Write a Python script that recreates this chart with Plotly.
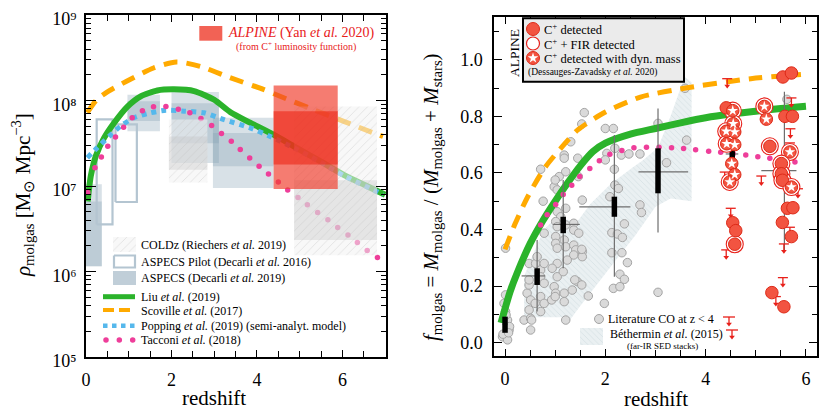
import plotly.graph_objects as go

W, H = 830, 415
OFF = 8  # the page body margin shifts the figure by 8 px; layout positions below are given in window pixels
FONT = "Liberation Serif"
RED = "#e8201a"

# ================= LEFT PANEL DATA (redshift, rho_molgas [Msun Mpc^-3]) =================
liu_z = [0.04, 0.07, 0.11, 0.23, 0.42, 0.66, 0.97, 1.28, 1.67, 2.06, 2.53, 3.00, 3.38, 3.84, 4.39, 4.93, 5.48, 6.03, 6.57, 7.00]
liu_rho = [6.6e6, 9.1e6, 1.29e7, 2.24e7, 3.63e7, 5.5e7, 8.5e7, 1.12e8, 1.31e8, 1.35e8, 1.29e8, 1.02e8, 7.3e7, 5.5e7, 3.98e7, 2.79e7, 1.95e7, 1.35e7, 1.0e7, 7.9e6]

scov_z = [0.03, 0.25, 0.50, 0.95, 1.58, 2.12, 2.67, 3.37, 4.15, 4.54, 5.32, 6.03, 6.73, 6.95]
scov_rho = [7.24e7, 1.02e8, 1.26e8, 1.68e8, 2.40e8, 2.82e8, 2.51e8, 1.85e8, 1.35e8, 1.12e8, 7.83e7, 5.71e7, 4.17e7, 3.8e7]

pop_z = [0.03, 0.26, 0.54, 0.81, 1.12, 1.51, 1.87, 2.30, 2.76, 3.23, 3.84, 4.31, 4.93, 5.48, 6.03, 6.57, 6.95]
pop_rho = [2.14e7, 2.79e7, 3.8e7, 5.01e7, 6.31e7, 7.18e7, 7.69e7, 7.5e7, 7.18e7, 5.98e7, 4.79e7, 3.8e7, 2.69e7, 1.91e7, 1.32e7, 9.8e6, 7.9e6]

tac_z = [0.04, 0.21, 0.36, 0.51, 0.69, 0.88, 1.08, 1.32, 1.58, 1.87, 2.16, 2.43, 2.69, 2.94, 3.17, 3.40,
         3.61, 3.83, 4.05, 4.27, 4.50, 4.72, 4.96, 5.18, 5.42, 5.66, 5.89, 6.13, 6.35, 6.58, 6.82]
tac_rho = [8.4e6, 1.63e7, 2.19e7, 2.91e7, 3.75e7, 4.86e7, 6.27e7, 7.57e7, 8.43e7, 8.51e7, 7.91e7, 7.18e7, 6.15e7, 5.09e7, 4.1e7, 3.33e7,
           2.67e7, 2.13e7, 1.70e7, 1.38e7, 1.11e7, 8.97e6, 7.36e6, 6.03e6, 4.9e6, 4.03e6, 3.27e6, 2.67e6, 2.19e6, 1.76e6, 1.46e6]

rho_ticks = [1e5, 1e6, 1e7, 1e8, 1e9]
rho_ticktext = ["10⁵", "10⁶", "10⁷", "10⁸", "10⁹"]

aspecs_zlo = [0.00, 0.97, 2.00, 2.97]
aspecs_zhi = [0.37, 1.73, 3.11, 4.39]
aspecs_lo = [1.15e6, 4.37e7, 1.86e7, 9.5e6]
aspecs_hi = [1.05e7, 1.17e8, 1.26e8, 6.3e7]
aspecs_in_lo = [1.15e6, 5.75e7, 3.16e7, 1.7e7]
aspecs_in_hi = [6.6e6, 9.8e7, 9.3e7, 4.17e7]

pilot_zlo = [0.25, 0.69]
pilot_zhi = [0.62, 1.19]
pilot_lo = [3.55e6, 6.5e6]
pilot_hi = [6.0e7, 5.25e7]

coldz_zlo = [1.94, 4.87]
coldz_zhi = [2.84, 6.81]
coldz_lo = [1.1e7, 1.55e6]
coldz_hi = [6.0e7, 8.5e7]
coldz_in_lo = [1.55e7, 2.34e6]
coldz_in_hi = [3.8e7, 1.17e7]

alpine_zlo = [4.39, 4.39]
alpine_zhi = [5.89, 5.89]
alpine_lo = [9.2e6, 1.78e7]
alpine_hi = [1.5e8, 7.5e7]

# ================= RIGHT PANEL DATA (redshift, f_molgas) =================
liuf_z = [-0.08, 0.0, 0.1, 0.25, 0.5, 0.75, 1.0, 1.25, 1.5, 1.75, 2.0, 2.5, 3.0, 3.5, 4.0, 4.5, 5.0, 5.5, 6.0]
liuf_f = [0.07, 0.12, 0.18, 0.25, 0.35, 0.43, 0.50, 0.565, 0.625, 0.675, 0.705, 0.737, 0.757, 0.777, 0.795, 0.808, 0.818, 0.828, 0.836]

scovf_z = [0.0, 0.2, 0.45, 0.8, 1.2, 1.45, 2.0, 2.7, 3.6, 4.9, 5.9]
scovf_f = [0.33, 0.42, 0.515, 0.62, 0.705, 0.752, 0.815, 0.868, 0.90, 0.933, 0.948]

tacf_z = [0.71, 0.84, 1.01, 1.16, 1.33, 1.49, 1.69, 1.88, 2.09, 2.33, 2.57, 2.82, 3.07, 3.32, 3.56, 3.80,
          4.06, 4.30, 4.55, 4.80, 5.04, 5.28, 5.53, 5.78]
tacf_f = [0.416, 0.452, 0.488, 0.524, 0.556, 0.587, 0.616, 0.643, 0.666, 0.679, 0.689, 0.691, 0.691, 0.689, 0.686, 0.682,
          0.677, 0.673, 0.668, 0.663, 0.657, 0.652, 0.645, 0.639]

beth_z = [0.38, 0.38, 0.60, 0.78, 1.00, 1.45, 1.70, 2.10, 2.55, 2.75, 3.05, 3.30, 3.58, 3.72,
          3.72, 3.30, 3.00, 2.60, 2.20, 1.80, 1.50, 1.25, 1.15, 0.38]
beth_f = [0.09, 0.235, 0.33, 0.40, 0.44, 0.43, 0.49, 0.56, 0.62, 0.645, 0.69, 0.80, 0.94, 0.92,
          0.50, 0.51, 0.48, 0.38, 0.29, 0.20, 0.13, 0.07, 0.09, 0.09]

lit_z = [0.01, 0.01, -0.02, 0.01, 0.05, 0.08, -0.05, 0.05, 0.02, 0.09, -0.04, 0.07,
         0.38, 0.44, 0.48, 0.51, 0.48, 0.51, 0.51, 0.48, 0.61, 0.48, 0.71, 0.78, 0.71, 0.78, 0.71, 0.78, 0.71, 0.76, 0.71, 0.78, 0.64, 0.60, 0.53,
         1.31, 1.18, 1.18, 1.21, 1.08, 0.98, 1.04, 1.00, 1.54, 1.21, 1.04, 1.11, 1.01, 1.04, 1.21, 1.37, 1.37, 1.47, 1.01, 1.01,
         1.18, 1.04, 1.21, 1.37, 1.41, 1.54, 1.37, 1.54, 1.24, 1.04, 0.94, 1.04, 0.98, 1.01, 1.18, 1.34, 1.44, 1.18, 1.21, 0.93, 1.00, 1.16,
         1.58, 1.53, 2.00, 2.16, 3.05, 2.19, 2.03, 2.00, 2.32, 2.47, 2.69, 1.45, 1.46, 2.18, 3.22, 2.19, 2.26, 2.09, 2.69, 2.72,
         1.53, 2.38, 2.13, 2.24, 2.34, 2.13, 2.33, 2.44, 2.29, 2.38, 2.16, 2.29, 1.53, 1.39, 1.66, 1.98, 3.05, 3.59, 3.62, 5.62]
lit_f = [0.334, 0.169, 0.139, 0.11, 0.08, 0.045, 0.021, 0.01, 0.098, 0.057, 0.03, 0.035,
         0.08, 0.175, 0.204, 0.151, 0.116, 0.086, 0.045, 0.28, 0.28, 0.222, 0.257, 0.28, 0.233, 0.21, 0.163, 0.139, 0.11, 0.50, 0.613, 0.387, 0.304, 0.139, 0.08,
         0.71, 0.663, 0.652, 0.604, 0.587, 0.551, 0.54, 0.575, 0.504, 0.475, 0.463, 0.445, 0.428, 0.41, 0.416, 0.422, 0.398, 0.387, 0.375, 0.351,
         0.363, 0.334, 0.339, 0.345, 0.328, 0.322, 0.31, 0.304, 0.292, 0.28, 0.263, 0.233, 0.198, 0.175, 0.175, 0.186, 0.216, 0.145, 0.08, 0.151, 0.163, 0.251,
         0.813, 0.773, 0.757, 0.757, 0.775, 0.687, 0.669, 0.646, 0.663, 0.667, 0.667, 0.652, 0.587, 0.613, 0.636, 0.557, 0.545, 0.516, 0.487, 0.46,
         0.33, 0.42, 0.389, 0.384, 0.372, 0.318, 0.318, 0.283, 0.242, 0.224, 0.192, 0.198, 0.204, 0.222, 0.165, 0.139, 0.178, 0.899, 0.716, 0.86]

med_z = [0.00, 0.64, 1.16, 2.18, 3.05, 4.53, 5.57]
med_lo = [0.035, 0.204, 0.387, 0.445, 0.528, 0.634, 0.546]
med_hi = [0.092, 0.263, 0.445, 0.516, 0.687, 0.702, 0.667]
med_mid = [0.065, 0.236, 0.418, 0.48, 0.604, 0.667, 0.608]
err_flo = [0.04, 0.11, 0.263, 0.233, 0.389, 0.562, 0.322]
err_fhi = [0.09, 0.363, 0.575, 0.734, 0.828, 0.815, 0.887]
err_zlo = [-0.05, 0.33, 0.96, 1.48, 2.66, 4.40, 5.11]
err_zhi = [0.05, 0.80, 1.49, 2.50, 3.65, 4.65, 5.81]

alp_z = [5.54, 5.71, 4.41, 4.54, 5.17, 5.21, 5.58, 5.73, 4.55, 4.41, 4.58, 4.42, 4.58, 5.28, 5.68, 4.52,
         5.51, 4.58, 4.48, 5.51, 5.53, 5.71, 5.63, 5.74, 5.53, 5.71, 4.54, 4.60, 4.58, 5.32, 5.56]
alp_f = [0.939, 0.953, 0.83, 0.82, 0.835, 0.79, 0.80, 0.80, 0.774, 0.747, 0.745, 0.703, 0.70, 0.694, 0.674, 0.633,
         0.633, 0.594, 0.568, 0.597, 0.574, 0.55, 0.475, 0.477, 0.425, 0.375, 0.424, 0.396, 0.348, 0.177, 0.127]
alp_kind = ["det", "det", "det", "firstar", "firstar", "star", "det", "det", "firstar", "firstar", "star", "firstar", "star", "fir", "firstar", "star",
            "fir", "star", "firstar", "fir", "fir", "firstar", "det", "det", "det", "det", "det", "det", "fir", "det", "det"]

ulim_z = [4.43, 5.71, 5.69, 4.38, 5.11, 5.68, 5.84, 4.50, 4.41, 5.68, 5.56, 5.54, 5.40]
ulim_f = [0.933, 0.865, 0.756, 0.603, 0.589, 0.706, 0.544, 0.475, 0.328, 0.408, 0.349, 0.23, 0.163]

# ================= FIGURE =================
fig = go.Figure()
LA = dict(xaxis="x", yaxis="y")
RA = dict(xaxis="x2", yaxis="y2")
PA = dict(xaxis="x3", yaxis="y3")


def rect(x0, x1, y0, y1):
    return [x0, x1, x1, x0, x0], [y0, y0, y1, y1, y0]


def add_box(x0, x1, y0, y1, axes, fill=None, line=None, pattern=None):
    xs, ys = rect(x0, x1, y0, y1)
    kw = dict(x=xs, y=ys, mode="lines", showlegend=False, hoverinfo="skip", **axes)
    if fill is not None:
        kw["fill"] = "toself"
        kw["fillcolor"] = fill
    kw["line"] = line if line is not None else dict(width=0, color="rgba(0,0,0,0)")
    if pattern is not None:
        kw["fillpattern"] = pattern
    fig.add_trace(go.Scatter(**kw))


ASPECS_FILL = "rgba(130,158,178,0.31)"
PILOT_LINE = dict(color="#b4c5d1", width=2.2)
COLDZ_PAT = dict(shape="/", fgcolor="#b8b8b8", bgcolor="rgba(242,242,242,0.55)", size=6, solidity=0.1)
COLDZ_FILL = "rgba(242,242,242,0.55)"
COLDZ_IN = "rgba(190,190,190,0.32)"
BETH_PAT = dict(shape="\\", fgcolor="#b3c6cc", bgcolor="rgba(226,234,237,0.75)", size=4, solidity=0.15)

# ---- left panel ----
for i in range(len(aspecs_zlo)):
    add_box(aspecs_zlo[i], aspecs_zhi[i], aspecs_lo[i], aspecs_hi[i], LA, fill=ASPECS_FILL)
    add_box(aspecs_zlo[i], aspecs_zhi[i], aspecs_in_lo[i], aspecs_in_hi[i], LA, fill=ASPECS_FILL)
for i in range(len(pilot_zlo)):
    add_box(pilot_zlo[i], pilot_zhi[i], pilot_lo[i], pilot_hi[i], LA, line=PILOT_LINE)

fig.add_trace(go.Scatter(x=scov_z, y=scov_rho, mode="lines",
                         line=dict(color="#ffaa00", width=5, dash="14px,9px", shape="spline", smoothing=0.7),
                         showlegend=False, hoverinfo="skip", **LA))
fig.add_trace(go.Scatter(x=liu_z, y=liu_rho, mode="lines", line=dict(color="#2bb32b", width=6, shape="spline", smoothing=0.6),
                         showlegend=False, hoverinfo="skip", **LA))
fig.add_trace(go.Scatter(x=pop_z, y=pop_rho, mode="lines",
                         line=dict(color="#55b8ec", width=5, dash="dot", shape="spline", smoothing=0.6),
                         showlegend=False, hoverinfo="skip", **LA))
fig.add_trace(go.Scatter(x=tac_z, y=tac_rho, mode="markers", marker=dict(color="#ee3e9a", size=5.5),
                         showlegend=False, hoverinfo="skip", **LA))

for i in range(len(coldz_zlo)):
    add_box(coldz_zlo[i], coldz_zhi[i], coldz_lo[i], coldz_hi[i], LA, fill=COLDZ_FILL, pattern=COLDZ_PAT)
    add_box(coldz_zlo[i], coldz_zhi[i], coldz_in_lo[i], coldz_in_hi[i], LA, fill=COLDZ_IN)

add_box(alpine_zlo[0], alpine_zhi[0], alpine_lo[0], alpine_hi[0], LA, fill="rgba(240,62,45,0.68)")
add_box(alpine_zlo[1], alpine_zhi[1], alpine_lo[1], alpine_hi[1], LA, fill="rgba(236,38,22,0.6)")

# ---- right panel ----
fig.add_trace(go.Scatter(x=beth_z, y=beth_f, mode="lines", fill="toself", fillcolor="rgba(226,234,237,0.75)",
                         fillpattern=BETH_PAT, line=dict(width=0, color="rgba(0,0,0,0)"),
                         showlegend=False, hoverinfo="skip", **RA))
fig.add_trace(go.Scatter(x=lit_z, y=lit_f, mode="markers",
                         marker=dict(size=8.5, color="#dadada", line=dict(color="#a4a4a4", width=1)),
                         showlegend=False, hoverinfo="skip", **RA))
fig.add_trace(go.Scatter(x=scovf_z, y=scovf_f, mode="lines",
                         line=dict(color="#ffaa00", width=5, dash="14px,9px", shape="spline", smoothing=0.7),
                         showlegend=False, hoverinfo="skip", **RA))
fig.add_trace(go.Scatter(x=liuf_z, y=liuf_f, mode="lines", line=dict(color="#2bb32b", width=7, shape="spline", smoothing=0.7),
                         showlegend=False, hoverinfo="skip", **RA))
fig.add_trace(go.Scatter(x=tacf_z, y=tacf_f, mode="markers", marker=dict(color="#ee3e9a", size=5.5),
                         showlegend=False, hoverinfo="skip", **RA))

ex, ey = [], []
for i in range(len(med_z)):
    ex += [med_z[i], med_z[i], None, err_zlo[i], err_zhi[i], None]
    ey += [err_flo[i], err_fhi[i], None, med_mid[i], med_mid[i], None]
fig.add_trace(go.Scatter(x=ex, y=ey, mode="lines", line=dict(color="#6e6e6e", width=1.2),
                         showlegend=False, hoverinfo="skip", **RA))
bx, by = [], []
for i in range(len(med_z)):
    bx += [med_z[i], med_z[i], None]
    by += [med_lo[i], med_hi[i], None]
fig.add_trace(go.Scatter(x=bx, y=by, mode="lines", line=dict(color="black", width=5.5),
                         showlegend=False, hoverinfo="skip", **RA))

# upper limits
DZ, DF = 0.1, 0.026
ux, uy, tx, ty = [], [], [], []
for z, f in zip(ulim_z, ulim_f):
    ux += [z - DZ, z + DZ, None, z, z, None]
    uy += [f, f, None, f, f - DF, None]
    tx.append(z)
    ty.append(f - DF)
fig.add_trace(go.Scatter(x=ux, y=uy, mode="lines", line=dict(color=RED, width=1.3),
                         showlegend=False, hoverinfo="skip", **RA))
fig.add_trace(go.Scatter(x=tx, y=ty, mode="markers", marker=dict(symbol="triangle-down", size=5, color=RED),
                         showlegend=False, hoverinfo="skip", **RA))

ring_idx = [i for i, k in enumerate(alp_kind) if k in ("fir", "firstar")]
star_idx = [i for i, k in enumerate(alp_kind) if k in ("star", "firstar")]
fig.add_trace(go.Scatter(x=[alp_z[i] for i in ring_idx], y=[alp_f[i] for i in ring_idx], mode="markers",
                         marker=dict(size=17, color="white", line=dict(color=RED, width=1.1)),
                         showlegend=False, hoverinfo="skip", **RA))
fig.add_trace(go.Scatter(x=alp_z, y=alp_f, mode="markers",
                         marker=dict(size=12.5, color="#f25441", line=dict(color="#dd2a18", width=1)),
                         showlegend=False, hoverinfo="skip", **RA))
fig.add_trace(go.Scatter(x=[alp_z[i] for i in star_idx], y=[alp_f[i] for i in star_idx], mode="markers",
                         marker=dict(symbol="star", size=8, color="white", line=dict(width=0)),
                         showlegend=False, hoverinfo="skip", **RA))

# ================= LEGENDS (overlay axes in window pixels) =================
ann = []


def text(x, y, s, size=12, color="black", xanchor="left", angle=0):
    ann.append(dict(x=x, y=y, xref="x3", yref="y3", text=s, showarrow=False, xanchor=xanchor, yanchor="middle",
                    textangle=angle, font=dict(family=FONT, size=size, color=color)))


# left legend
add_box(113, 136, 237, 252, PA, fill=COLDZ_FILL, pattern=COLDZ_PAT)
add_box(114, 135, 255.5, 267.5, PA, line=PILOT_LINE)
add_box(113, 136, 271, 285, PA, fill="rgba(130,158,178,0.5)")
fig.add_trace(go.Scatter(x=[103, 135], y=[296.7, 296.7], mode="lines", line=dict(color="#2bb32b", width=5),
                         showlegend=False, hoverinfo="skip", **PA))
fig.add_trace(go.Scatter(x=[103, 135], y=[310, 310], mode="lines", line=dict(color="#ffaa00", width=4, dash="11px,5px"),
                         showlegend=False, hoverinfo="skip", **PA))
fig.add_trace(go.Scatter(x=[103, 135], y=[325.7, 325.7], mode="lines", line=dict(color="#55b8ec", width=4.5, dash="dot"),
                         showlegend=False, hoverinfo="skip", **PA))
fig.add_trace(go.Scatter(x=[106, 119.3, 132.7], y=[340, 340, 340], mode="markers", marker=dict(color="#ee3e9a", size=5.5),
                         showlegend=False, hoverinfo="skip", **PA))
text(139, 244.5, "COLDz (Riechers <i>et al.</i> 2019)")
text(139, 261.5, "ASPECS Pilot (Decarli <i>et al.</i> 2016)")
text(139, 278, "ASPECS (Decarli <i>et al.</i> 2019)")
text(139, 296.5, "Liu <i>et al.</i> (2019)")
text(139, 310.5, "Scoville <i>et al.</i> (2017)")
text(139, 325.5, "Popping <i>et al.</i> (2019) (semi-analyt. model)")
text(139, 340, "Tacconi <i>et al.</i> (2018)")

# ALPINE (Yan) legend
add_box(199.3, 222.3, 26, 40.7, PA, fill="rgba(240,70,55,0.85)")
text(226, 33, "<i>ALPINE</i> (Yan <i>et al.</i> 2020)", size=14, color=RED)
text(295.5, 46.5, "(from C<sup>+</sup> luminosity function)", size=10, color=RED, xanchor="center")

# right ALPINE legend box
shapes = [dict(type="rect", xref="x3", yref="y3", x0=523, x1=684, y0=18.3, y1=81.7,
               fillcolor="#ebebeb", line=dict(color="black", width=2), layer="below")]
fig.add_trace(go.Scatter(x=[533, 533], y=[29, 58], mode="markers",
                         marker=dict(size=13, color="#f25441", line=dict(color="#dd2a18", width=1)),
                         showlegend=False, hoverinfo="skip", **PA))
fig.add_trace(go.Scatter(x=[533], y=[43.5], mode="markers",
                         marker=dict(size=13, color="white", line=dict(color=RED, width=1.2)),
                         showlegend=False, hoverinfo="skip", **PA))
fig.add_trace(go.Scatter(x=[533], y=[58], mode="markers",
                         marker=dict(symbol="star", size=8, color="white", line=dict(width=0)),
                         showlegend=False, hoverinfo="skip", **PA))
text(542, 29, "C<sup>+</sup> detected", size=12.5)
text(542, 43.5, "C<sup>+</sup> + FIR detected", size=12.5)
text(542, 58, "C<sup>+</sup> detected with dyn. mass", size=12.5)
text(526, 72.5, "(Dessauges-Zavadsky <i>et al.</i> 2020)", size=9.5)
text(514.5, 53.5, "ALPINE", size=13.5, xanchor="center", angle=-90)

# right bottom legend
fig.add_trace(go.Scatter(x=[599], y=[319], mode="markers",
                         marker=dict(size=9, color="#dadada", line=dict(color="#a4a4a4", width=1)),
                         showlegend=False, hoverinfo="skip", **PA))
add_box(580, 603, 328, 345, PA, fill="rgba(226,234,237,0.75)", pattern=BETH_PAT)
for (lx, ly) in [(729, 317), (732, 330)]:
    fig.add_trace(go.Scatter(x=[lx - 6, lx + 6, None, lx, lx], y=[ly, ly, None, ly, ly + 7], mode="lines",
                             line=dict(color=RED, width=1.3), showlegend=False, hoverinfo="skip", **PA))
    fig.add_trace(go.Scatter(x=[lx], y=[ly + 7], mode="markers", marker=dict(symbol="triangle-down", size=5, color=RED),
                             showlegend=False, hoverinfo="skip", **PA))
text(606, 319, "Literature CO at z &lt; 4", size=12)
text(608, 333.5, "Béthermin <i>et al.</i> (2015)", size=12)
text(662, 345.5, "(far-IR SED stacks)", size=9, xanchor="center")

# axis titles
text(214, 398, "redshift", size=21, xanchor="center")
text(655.5, 399, "redshift", size=21, xanchor="center")
text(22, 195, "<i>ρ</i><sub>molgas</sub> [M<sub>⊙</sub> Mpc<sup>−3</sup>]", size=21, xanchor="center", angle=-90)
text(432, 197, "<i>f</i><sub>molgas</sub> = <i>M</i><sub>molgas</sub> / (<i>M</i><sub>molgas</sub> + <i>M</i><sub>stars</sub>)",
     size=21, xanchor="center", angle=-90)


# ================= LAYOUT =================
def xdom(a, b):
    return [(a - OFF) / W, (b - OFF) / W]


def ydom(top, bottom):
    return [1 - (bottom - OFF) / H, 1 - (top - OFF) / H]


axis_common = dict(showline=True, linecolor="black", linewidth=1.5, mirror="ticks", ticks="inside",
                   tickcolor="black", tickwidth=1.2, showgrid=False, zeroline=False, automargin=False,
                   ticklabeloverflow="allow", tickfont=dict(family=FONT, size=18, color="black"))

fig.update_layout(
    width=W, height=H, margin=dict(l=0, r=0, t=0, b=0, autoexpand=False),
    paper_bgcolor="white", plot_bgcolor="rgba(255,255,255,0)", showlegend=False,
    font=dict(family=FONT, color="black"),
    xaxis=dict(domain=xdom(86, 386), range=[0, 7.02], dtick=2, tick0=0, ticklen=7,
               minor=dict(ticks="inside", dtick=0.5, ticklen=6, tickcolor="black", showgrid=False),
               ticklabelstandoff=6, anchor="y", **axis_common),
    yaxis=dict(domain=ydom(15, 357), type="log", range=[5, 9], tickvals=rho_ticks, ticktext=rho_ticktext,
               ticklen=10, minor=dict(ticks="inside", dtick="D1", ticklen=5, tickcolor="black", showgrid=False),
               ticklabelstandoff=4, ticklabelshift=4, anchor="x", **axis_common),
    xaxis2=dict(domain=xdom(494, 817), range=[-0.22, 6.22], dtick=2, tick0=0, ticklen=7,
                minor=dict(ticks="inside", dtick=0.5, ticklen=6, tickcolor="black", showgrid=False),
                ticklabelstandoff=6, anchor="y2", **axis_common),
    yaxis2=dict(domain=ydom(17, 356), range=[-0.047, 1.151], dtick=0.2, tick0=0, tickformat=".1f",
                ticklen=8, minor=dict(ticks="inside", dtick=0.1, ticklen=5, tickcolor="black", showgrid=False),
                ticklabelstandoff=6, anchor="x2", **axis_common),
    xaxis3=dict(domain=[0, 1], range=[OFF, W + OFF], visible=False, fixedrange=True, anchor="y3", automargin=False),
    yaxis3=dict(domain=[0, 1], range=[H + OFF, OFF], visible=False, fixedrange=True, anchor="x3", automargin=False),
    annotations=ann,
    shapes=shapes,
)

fig.write_html("out.html")
